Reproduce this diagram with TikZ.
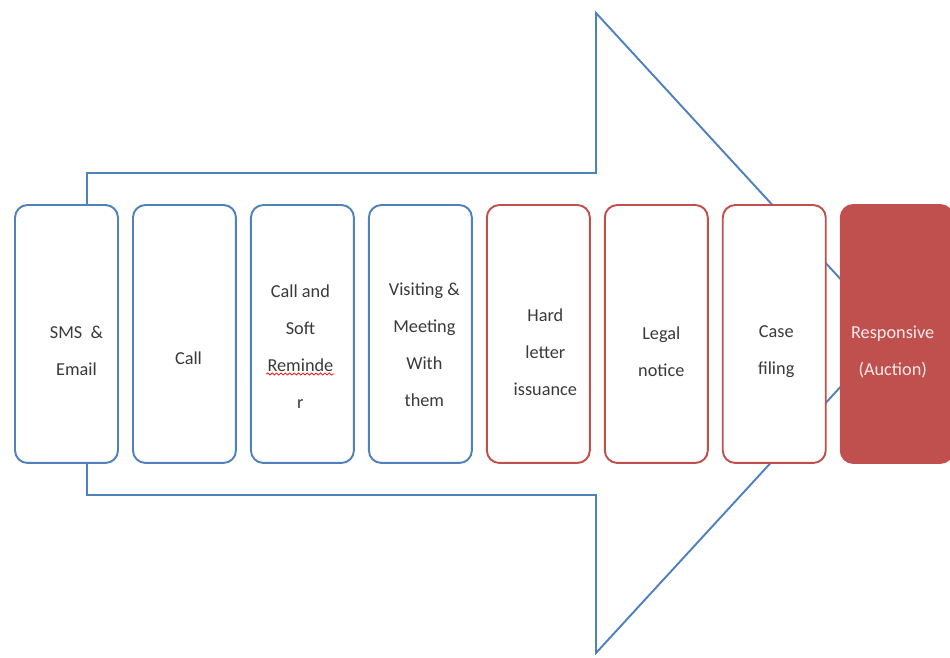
\documentclass[tikz,border=0pt]{standalone}
\usepackage{fontspec}
\setmainfont{Carlito}
\usepackage{tikz}
\usetikzlibrary{positioning, decorations.pathmorphing}

\definecolor{stageblue}{HTML}{4F81BD}
\definecolor{stagered}{HTML}{C0504D}
\definecolor{stagetext}{HTML}{3A3A3A}

\begin{document}
\begin{tikzpicture}[
  x=0.02cm, y=0.02cm,
  node distance=0.261cm,
  stage/.style={rectangle, draw=stageblue, fill=white, line width=1.1pt, minimum width=2.06cm, minimum height=5.16cm, rounded corners=0.25cm},
  legal/.style={stage, draw=stagered},
  final/.style={legal, fill=stagered, minimum width=2.24cm},
  words/.style={align=center, inner sep=0pt, text=stagetext, font=\fontsize{10.4}{21}\selectfont},
  finalwords/.style={words, text=stagered!12!white},
  flow/.style={draw=stageblue, line width=1.1pt, line join=miter},
  spelling/.style={draw=red, line width=0.4pt, decorate, decoration={snake, amplitude=0.6pt, segment length=2.5pt}}
]
\useasboundingbox (0,0) rectangle (950,658);

% Big arrow behind the steps
\coordinate (shaftnw) at (87,485);
\coordinate (shaftne) at (596,485);
\coordinate (headtop) at (596,645);
\coordinate (headtip) at (890,325);
\coordinate (headbot) at (596,5);
\coordinate (shaftse) at (596,163);
\coordinate (shaftsw) at (87,163);
\draw [flow] (shaftnw) -- (shaftne) -- (headtop) -- (headtip) -- (headbot) -- (shaftse) -- (shaftsw) -- cycle;

% Steps
\node (sms) [stage] at (66.5,324) {};
\node (call) [stage, right=of sms] {};
\node (soft) [stage, right=of call] {};
\node (visit) [stage, right=of soft] {};
\node (hard) [legal, right=of visit] {};
\node (notice) [legal, right=of hard] {};
\node (case) [legal, right=of notice] {};
\node (auction) [final, right=of case] {};

% Texts, sitting a little low in each box
\node (smstext) [words] at ([shift={(10,-17)}]sms.center) {SMS \ \&\\Email};
\node (calltext) [words] at ([shift={(4,-24)}]call.center) {Call};
\node (softtext) [words] at ([shift={(-2,-13)}]soft.center) {Call and\\Soft\\Reminde\\r};
\node (visittext) [words] at ([shift={(4,-11)}]visit.center) {Visiting \&\\Meeting\\With\\them};
\node (hardtext) [words] at ([shift={(7,-18)}]hard.center) {Hard\\letter\\issuance};
\node (noticetext) [words] at ([shift={(5,-18)}]notice.center) {Legal\\notice};
\node (casetext) [words] at ([shift={(2,-18)}]case.center) {Case\\filing};
\node (auctiontext) [finalwords] at ([shift={(-4,-18)}]auction.center) {Responsive\\(Auction)};

% spell-check mark under "Reminde"
\draw [spelling] ([shift={(-34,-27)}]softtext.center) -- ([shift={(34,-27)}]softtext.center);
\end{tikzpicture}
\end{document}
